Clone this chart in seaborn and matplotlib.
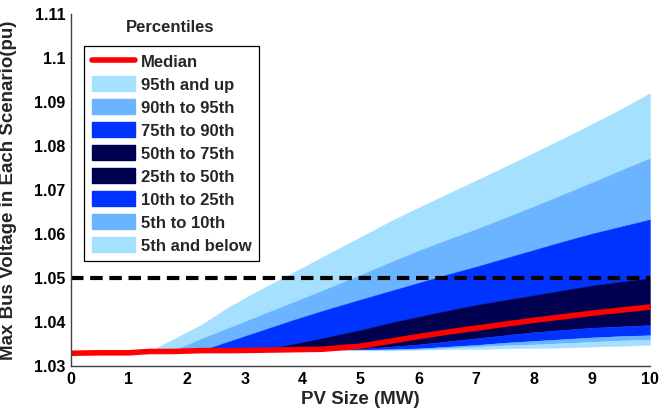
import numpy as np
import pandas as pd
import matplotlib
matplotlib.use("Agg")
import matplotlib.pyplot as plt
from matplotlib.patches import Patch
from matplotlib.lines import Line2D
import seaborn as sns

# ---------------- data ----------------
pv_size_mw = [0, 0.5, 1.0, 1.35, 1.75, 2.25, 2.75, 3.3, 3.8, 4.33,
              5, 5.5, 6, 6.5, 7, 7.5, 8, 8.5, 9, 9.5, 10]

p100 = [1.0329, 1.0330, 1.0330, 1.0333, 1.0360, 1.0394, 1.0436, 1.0476, 1.0510, 1.0547,
        1.0593, 1.0628, 1.0660, 1.0691, 1.0722, 1.0753, 1.0785, 1.0817, 1.0850, 1.0884, 1.0920]
p95 = [1.0329, 1.0330, 1.0330, 1.0333, 1.0334, 1.0362, 1.0388, 1.0417, 1.0443, 1.0471,
       1.0507, 1.0535, 1.0562, 1.0587, 1.0611, 1.0637, 1.0663, 1.0690, 1.0717, 1.0745, 1.0772]
p90 = [1.0329, 1.0330, 1.0330, 1.0333, 1.0333, 1.0335, 1.0357, 1.0381, 1.0403, 1.0425,
       1.0451, 1.0470, 1.0489, 1.0508, 1.0526, 1.0545, 1.0564, 1.0583, 1.0601, 1.0617, 1.0633]
p75 = [1.0329, 1.0330, 1.0330, 1.0333, 1.0333, 1.0335, 1.0335, 1.0336, 1.0349, 1.0363,
       1.0382, 1.0398, 1.0412, 1.0426, 1.0439, 1.0450, 1.0461, 1.0472, 1.0483, 1.0492, 1.0500]
median = [1.0329, 1.0330, 1.0330, 1.0333, 1.0333, 1.0335, 1.0335, 1.0336, 1.0337, 1.0338,
          1.0345, 1.0356, 1.0367, 1.0377, 1.0386, 1.0395, 1.0404, 1.0412, 1.0420, 1.0427, 1.0434]
p25 = [1.0329, 1.0330, 1.0330, 1.0333, 1.0333, 1.0335, 1.0335, 1.0336, 1.0337, 1.0337,
       1.0339, 1.0344, 1.0349, 1.0356, 1.0363, 1.0370, 1.0377, 1.0382, 1.0387, 1.0390, 1.0393]
p10 = [1.0329, 1.0330, 1.0330, 1.0333, 1.0333, 1.0335, 1.0335, 1.0336, 1.0336, 1.0337,
       1.0337, 1.0338, 1.0340, 1.0344, 1.0348, 1.0353, 1.0357, 1.0361, 1.0365, 1.0368, 1.0370]
p5 = [1.0329, 1.0330, 1.0330, 1.0333, 1.0333, 1.0335, 1.0335, 1.0336, 1.0336, 1.0337,
      1.0337, 1.0337, 1.0338, 1.0341, 1.0344, 1.0347, 1.0349, 1.0352, 1.0355, 1.0358, 1.0360]
p0 = [1.0329, 1.0330, 1.0330, 1.0333, 1.0333, 1.0335, 1.0335, 1.0336, 1.0336, 1.0336,
      1.0336, 1.0336, 1.0337, 1.0338, 1.0339, 1.0340, 1.0341, 1.0342, 1.0344, 1.0346, 1.0348]

voltage_limit = 1.05

band_labels = ["95th and up", "90th to 95th", "75th to 90th", "50th to 75th",
               "25th to 50th", "10th to 25th", "5th to 10th", "5th and below"]
x_ticks = [0, 1, 2, 3, 4, 5, 6, 7, 8, 9, 10]
y_ticks = [1.03, 1.04, 1.05, 1.06, 1.07, 1.08, 1.09, 1.10, 1.11]
y_tick_labels = ["1.03", "1.04", "1.05", "1.06", "1.07", "1.08", "1.09", "1.1", "1.11"]

# ---------------- style ----------------
sns.set_theme(style="white")
plt.rcParams["font.family"] = ["Liberation Sans", "DejaVu Sans"]
plt.rcParams["font.weight"] = "bold"

LIGHT = "#A6E0FF"
MID = "#6BB4FF"
BLUE = "#0033FF"
DARK = "#000050"

df = pd.DataFrame({"pv": pv_size_mw, "p0": p0, "p5": p5, "p10": p10, "p25": p25,
                   "median": median, "p75": p75, "p90": p90, "p95": p95, "p100": p100})

fig = plt.figure(figsize=(6.61, 4.15), dpi=100)
ax = fig.add_axes([71 / 661, 1 - 366 / 415, (650 - 71) / 661, (366 - 14) / 415])

bands = [("p95", "p100", LIGHT), ("p90", "p95", MID), ("p75", "p90", BLUE),
         ("median", "p75", DARK), ("p25", "median", DARK), ("p10", "p25", BLUE),
         ("p5", "p10", MID), ("p0", "p5", LIGHT)]
for lo, hi, c in bands:
    ax.fill_between(df["pv"], df[lo], df[hi], facecolor=c, edgecolor=c, linewidth=0.3)

ax.axhline(voltage_limit, color="black", linewidth=3, dashes=(3, 1.6))

sns.lineplot(data=df, x="pv", y="median", color="red", linewidth=4, ax=ax,
             legend=False)

ax.set_xlim(0, 10)
ax.set_ylim(1.03, 1.11)
ax.set_xticks(x_ticks)
ax.set_xticklabels([str(t) for t in x_ticks])
ax.set_yticks(y_ticks)
ax.set_yticklabels(y_tick_labels)
ax.tick_params(direction="in", length=4, width=1, color="#404040",
               labelsize=11.5, pad=4, labelcolor="black")
for s in ["top", "right"]:
    ax.spines[s].set_visible(False)
for s in ["left", "bottom"]:
    ax.spines[s].set_color("#404040")
    ax.spines[s].set_linewidth(1)

ax.set_xlabel("PV Size (MW)", fontsize=13.5, fontweight="bold", labelpad=3)
ax.set_ylabel("Max Bus Voltage in Each Scenario(pu)", fontsize=13.5, fontweight="bold")
ax.yaxis.set_label_coords(-0.093, 0.5)

handles = [Line2D([0], [0], color="red", linewidth=4)]
band_colors = [LIGHT, MID, BLUE, DARK, DARK, BLUE, MID, LIGHT]
for c in band_colors:
    handles.append(Patch(facecolor=c, edgecolor=c))
leg = ax.legend(handles, ["Median"] + band_labels, loc="upper left",
                bbox_to_anchor=(84 / 661, 1 - 46 / 415), bbox_transform=fig.transFigure,
                borderaxespad=0, frameon=True, fancybox=False, framealpha=1,
                prop={"size": 12, "weight": "bold"}, handlelength=2.6,
                handleheight=1.0, labelspacing=0.41, handletextpad=0.35,
                borderpad=0.45)
leg.get_frame().set_edgecolor("black")
leg.get_frame().set_linewidth(0.9)

fig.text(170 / 661, 1 - 27 / 415, "Percentiles", ha="center", va="center",
         fontsize=12, fontweight="bold")

fig.savefig("out.png", dpi=100)
